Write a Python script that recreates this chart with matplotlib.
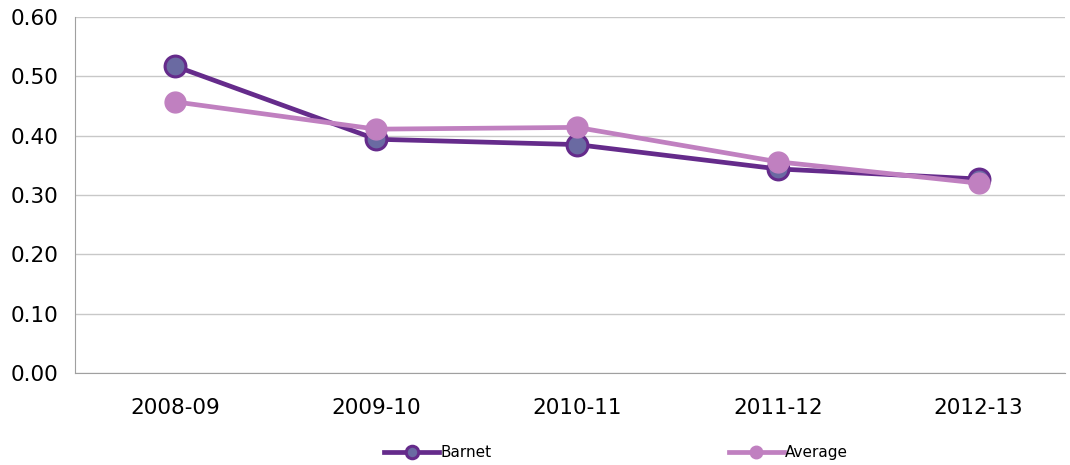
import matplotlib.pyplot as plt
import numpy as np

# データ
years = ['2008-09', '2009-10', '2010-11', '2011-12', '2012-13']
barnet = [0.517, 0.394, 0.385, 0.344, 0.327]
average = [0.457, 0.411, 0.414, 0.356, 0.320]

fig = plt.figure(figsize=(10.7, 4.65), dpi=100)
ax = fig.add_axes([0.0701, 0.1978, 0.9252, 0.7656])

x = np.arange(len(years))
ax.plot(x, barnet, color='#652b8b', lw=3.4, marker='o', ms=15,
        mfc='#6a6aa2', mec='#652b8b', mew=2.2, label='Barnet', zorder=3)
ax.plot(x, average, color='#c080c0', lw=3.4, marker='o', ms=15,
        mfc='#c080c0', mec='#c080c0', label='Average', zorder=4)

# 軸の設定
ax.set_xlim(-0.5, 4.43)
ax.set_ylim(0, 0.6)
ax.set_yticks(np.arange(0, 0.61, 0.1))
ax.set_yticklabels([f'{v:.2f}' for v in np.arange(0, 0.61, 0.1)])
ax.set_xticks(x)
ax.set_xticklabels(years)
ax.grid(axis='y', color='#c8c8c8', lw=1)
ax.set_axisbelow(True)
for s in ['top', 'right']:
    ax.spines[s].set_visible(False)
for s in ['left', 'bottom']:
    ax.spines[s].set_color('#a0a0a0')
ax.tick_params(length=0, labelsize=15.5, pad=12)
ax.tick_params(axis='x', pad=18)

fig.legend(loc='center', bbox_to_anchor=(0.576, 0.026), ncol=2, frameon=False,
           fontsize=11, handlelength=3.6, columnspacing=15.5, handletextpad=0.1,
           markerscale=0.6)

plt.savefig('out.png', dpi=100)
